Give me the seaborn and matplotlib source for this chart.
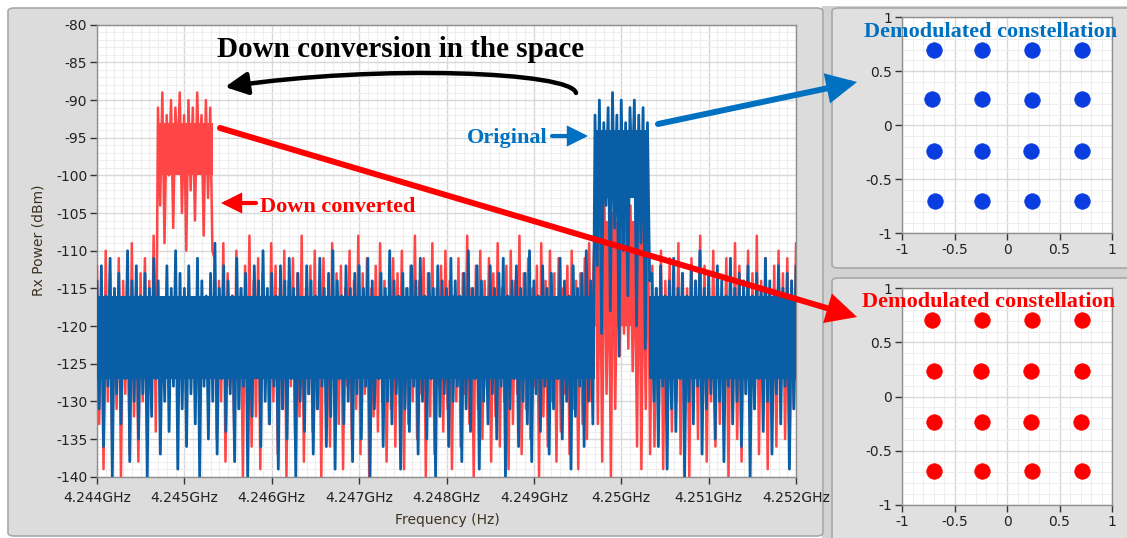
import numpy as np
import pandas as pd
import matplotlib
matplotlib.use("Agg")
import matplotlib.pyplot as plt
import seaborn as sns
from matplotlib.patches import FancyBboxPatch, FancyArrowPatch, Rectangle
from matplotlib.path import Path
from matplotlib.ticker import MultipleLocator

# spectrum values (dBm) from left to right
blue_left = [
    -114,-131,-112,-136,-116,-128,-111,-140,-115,-129,-113,-133,-117,-127,-110,-138,-114,-130,-112,-135,
    -116,-129,-113,-140,-115,-132,-111,-127,-114,-137,-118,-130,-112,-134,-115,-128,-110,-139,-113,-131,
    -115,-136,-112,-129,-117,-133,-111,-140,-114,-128,-116,-135,-113,-130,-109,-137,-115,-127,-112,-134,
    -114,-129,-116,-138,-111,-131,-115,-128,-113,-140,-117,-132,-112,-126,-114,-136,-110,-130,-115,-133,
    -113,-128,-116,-139,-112,-131,-114,-135,-111,-127,-115,-140,-113,-130,-117,-134,-112,-129,-114,-137,
    -116,-131,-111,-128,-115,-136,-113,-132,-110,-139,-114,-127,-116,-133,-112,-130,-115,-138,-113,-129,
    -112,-135,-115,-128,-111,-140,-114,-131,-117,-127,-113,-136,-115,-130,-110,-133,-114,-129,-116,-139,
    -113,-131,-115,-134,-112,-128,-114,-137,-111,-130,-116,-135,-113,-127,-115,-140,-112,-132,-114,-129,
    -115,-136,-111,-130,-114,-128,-116,-138,-113,-131,-110,-134,-115,-127,-112,-139,-114,-130,-117,-133,
    -112,-129,-115,-135,-113,-128,-111,-140,-116,-131,-114,-127,-112,-136,-115,-130,-113,-133,-110,-138,
    -114,-129,-116,-134,-112,-128,-115,-137,-113,-131,-117,-127,-111,-135,-114,-130,-116,-139,-112,-132,
    -115,-128,-113,-136,-110,-130,-114,-133,
]
blue_band = [
    -92,-112,-90,-121,-93,-104,-91,-118,-89,-107,-92,-124,-90,-110,-93,-116,-91,-102,-90,-120,
    -92,-109,-91,-123,-93,-114,
]
blue_right = [
    -113,-130,-115,-136,-112,-128,-116,-139,-114,-131,-111,-134,-115,-127,-113,-140,-116,-130,-112,-133,
    -114,-128,-110,-137,-115,-131,-113,-129,-117,-135,-112,-130,-114,-138,-116,-128,-111,-133,-115,-130,
    -113,-136,-114,-129,-112,-140,-116,-131,-113,-127,-115,-134,-111,-130,-114,-137,-116,-129,-112,-133,
    -115,-128,-113,-139,-114,-131,-112,
]

red_left = [
    -112,-133,-115,-139,-110,-130,-113,-136,-116,-131,-111,-140,-114,-129,-112,-137,-109,-132,-115,-138,
    -113,-130,-111,-135,-114,-131,-108,-134,
]
red_band = [
    -91,-104,-89,-109,-92,-100,-90,-107,-91,-98,-89,-105,-92,-110,-90,-102,-91,-106,-89,-99,
    -92,-108,-90,-103,-91,-110,
]
red_mid = [
    -111,-135,-114,-130,-109,-138,-113,-128,-116,-134,-110,-131,-115,-140,-112,-129,-108,-136,-114,-132,
    -111,-139,-113,-127,-116,-133,-109,-130,-112,-137,-115,-131,-110,-140,-114,-128,-111,-135,-113,-132,
    -108,-138,-115,-129,-112,-134,-110,-131,-114,-140,-111,-127,-116,-136,-109,-130,-113,-133,-112,-139,
    -115,-128,-110,-135,-114,-131,-108,-137,-113,-129,-111,-140,-115,-132,-112,-134,-109,-130,-114,-138,
    -116,-131,-111,-136,-113,-128,-110,-139,-115,-133,-112,-130,-108,-135,-114,-129,-111,-140,-113,-132,
    -109,-137,-115,-128,-112,-134,-110,-131,-114,-139,-116,-130,-111,-136,-113,-129,-108,-133,-115,-140,
    -112,-131,-110,-135,-114,-128,-111,-138,-113,-132,-109,-136,-115,-130,-112,-139,-110,-133,-114,-129,
    -108,-137,-113,-131,-111,-135,-115,-128,-112,-140,-109,-132,-114,-136,-110,-130,-113,-138,-111,-134,
    -115,-129,-112,-137,-110,-131,-114,-139,-113,-133,-111,-135,-109,-130,-112,
]
red_image = [
    -104,-133,-107,-138,-103,-129,-109,-140,-105,-131,-108,-124,-103,-121,-106,-123,-104,-126,-110,-136,
    -105,-139,-108,-131,-104,-137,
]
red_right = [
    -112,-136,-115,-131,-110,-139,-114,-128,-111,-134,-116,-130,-109,-137,-113,-132,-115,-140,-111,-129,
    -114,-135,-108,-131,-112,-138,-115,-130,-110,-136,-113,-133,-116,-128,-111,-140,-114,-131,-109,-135,
    -112,-138,-115,-129,-110,-134,-113,-131,-108,-137,-114,-130,-111,-139,-115,-132,-112,-136,-110,-129,
    -113,-135,-111,-138,-114,-131,-109,
]

# solid core of each trace (where the dense sweep fills the plot completely)
blue_core_f = [4.244, 4.2497, 4.2497, 4.25032, 4.25032, 4.252]
blue_core_top = [-116, -116, -94, -94, -116, -116]
blue_core_bot = [-127, -127, -103, -103, -127, -127]
red_core_f = [4.2447, 4.24533]
red_core_top = [-93, -93]
red_core_bot = [-100, -100]
red_image_f = [4.2497, 4.25032]
red_image_top = [-106, -106]
red_image_bot = [-120, -120]

f_start, f_stop = 4.244, 4.252
x_ticks = [4.244, 4.245, 4.246, 4.247, 4.248, 4.249, 4.250, 4.251, 4.252]
x_labels = ["4.244GHz", "4.245GHz", "4.246GHz", "4.247GHz", "4.248GHz",
            "4.249GHz", "4.25GHz", "4.251GHz", "4.252GHz"]

# constellation cluster centres (I, Q)
blue_i = [-0.70, -0.24, 0.24, 0.71, -0.71, -0.24, 0.24, 0.71,
          -0.70, -0.24, 0.23, 0.71, -0.69, -0.24, 0.24, 0.71]
blue_q = [0.70, 0.70, 0.70, 0.70, 0.24, 0.24, 0.23, 0.24,
          -0.24, -0.24, -0.24, -0.24, -0.70, -0.70, -0.70, -0.70]
red_i = [-0.71, -0.24, 0.24, 0.71, -0.70, -0.25, 0.23, 0.71,
         -0.70, -0.24, 0.23, 0.70, -0.70, -0.24, 0.24, 0.71]
red_q = [0.71, 0.71, 0.71, 0.71, 0.24, 0.24, 0.24, 0.24,
         -0.23, -0.23, -0.23, -0.23, -0.69, -0.69, -0.69, -0.69]
c_ticks = [-1, -0.5, 0, 0.5, 1]
c_labels = ["-1", "-0.5", "0", "0.5", "1"]

sns.set_style("white")
plt.rcParams["font.family"] = ["DejaVu Sans"]
plt.rcParams["axes.unicode_minus"] = False

BLUE = "#095ea5"
RED = "#ff4646"

W, H = 1127, 538
fig = plt.figure(figsize=(W / 100, H / 100), dpi=100)
fig.patch.set_facecolor("white")


def fx(x):
    return x / W


def fy(y):
    return 1 - y / H


def rect(x0, y0, x1, y1):
    return [fx(x0), fy(y1), fx(x1) - fx(x0), fy(y0) - fy(y1)]


def panel(x0, y0, x1, y1, face="#dcdcdc"):
    p = FancyBboxPatch((fx(x0), fy(y1)), fx(x1) - fx(x0), fy(y0) - fy(y1),
                       boxstyle="round,pad=0,rounding_size=0.006",
                       transform=fig.transFigure, facecolor=face,
                       edgecolor="#a8a8a8", lw=1.2, zorder=-5)
    fig.add_artist(p)


# window backgrounds
fig.add_artist(Rectangle((fx(822), 0), 1 - fx(822), fy(6), transform=fig.transFigure,
                         facecolor="#d2d2d2", edgecolor="none", zorder=-6))
panel(8, 8, 823, 536, "#dcdcdc")
panel(832, 8, 1135, 268, "#e0e0e0")
panel(832, 278, 1135, 545, "#e0e0e0")

# spectrum
ax = fig.add_axes(rect(97, 24.7, 796, 476.7))
ax.set_facecolor("white")

blue_vals = blue_left + blue_band + blue_right
red_vals = red_left + red_band + red_mid + red_image + red_right
blue_df = pd.DataFrame({"f": np.linspace(f_start, f_stop, len(blue_vals)), "p": blue_vals})
red_df = pd.DataFrame({"f": np.linspace(f_start, f_stop, len(red_vals)), "p": red_vals})

ax.fill_between(red_core_f, red_core_bot, red_core_top, color=RED, lw=0, zorder=2)
ax.fill_between(red_image_f, red_image_bot, red_image_top, color=RED, lw=0, zorder=2)
sns.lineplot(data=red_df, x="f", y="p", ax=ax, color=RED, lw=1.8,
             sort=False, estimator=None, zorder=3)
ax.fill_between(blue_core_f, blue_core_bot, blue_core_top, color=BLUE, lw=0, zorder=4)
sns.lineplot(data=blue_df, x="f", y="p", ax=ax, color=BLUE, lw=2.0,
             sort=False, estimator=None, zorder=5)

ax.set_xlim(f_start, f_stop)
ax.set_ylim(-140, -80)
ax.set_xticks(x_ticks)
ax.set_xticklabels(x_labels)
ax.set_yticks(range(-140, -79, 5))
ax.xaxis.set_minor_locator(MultipleLocator(0.0001))
ax.yaxis.set_minor_locator(MultipleLocator(1))
ax.grid(which="major", color="#d8d8d8", lw=1.0)
ax.grid(which="minor", color="#eeeeee", lw=0.8)
ax.set_axisbelow(True)
ax.tick_params(which="major", direction="out", length=5, width=1, color="#333333",
               labelsize=10, labelcolor="#222222", pad=2, bottom=True, left=True)
ax.tick_params(axis="x", pad=5)
ax.tick_params(which="minor", length=0)
ax.set_xlabel("")
ax.set_ylabel("")
for s in ax.spines.values():
    s.set_color("#8f8f8f")
    s.set_linewidth(1)

fig.text(fx(38), fy(240), "Rx Power (dBm)", rotation=90, ha="center", va="center",
         fontsize=10, color="#3b3222")
fig.text(fx(447), fy(520), "Frequency (Hz)", ha="center", va="center",
         fontsize=10, color="#3b3222")


# constellations
def constellation(box, xs, ys, color):
    cax = fig.add_axes(box)
    cax.set_facecolor("white")
    sns.scatterplot(x=xs, y=ys, ax=cax, color=color, s=125, marker="o",
                    edgecolor=color, linewidth=0.5, zorder=3)
    cax.set_xlim(-1, 1)
    cax.set_ylim(-1, 1)
    cax.set_xticks(c_ticks)
    cax.set_xticklabels(c_labels)
    cax.set_yticks(c_ticks)
    cax.set_yticklabels(c_labels)
    cax.xaxis.set_minor_locator(MultipleLocator(0.1))
    cax.yaxis.set_minor_locator(MultipleLocator(0.1))
    cax.grid(which="major", color="#d8d8d8", lw=1.0)
    cax.grid(which="minor", color="#eeeeee", lw=0.8)
    cax.set_axisbelow(True)
    cax.tick_params(which="major", direction="out", length=5, width=1, color="#333333",
                    labelsize=10, labelcolor="#222222", pad=2, bottom=True, left=True)
    cax.tick_params(which="minor", length=0)
    for s in cax.spines.values():
        s.set_color("#8f8f8f")
        s.set_linewidth(1)
    return cax


constellation(rect(902, 17.3, 1112, 233.3), blue_i, blue_q, "#0a3de0")
constellation(rect(902, 288.3, 1112, 505), red_i, red_q, "#ff0000")

# annotations
serif = ["Liberation Serif", "DejaVu Serif"]
fig.text(fx(217), fy(57), "Down conversion in the space", fontsize=21, fontweight="bold",
         family=serif, color="black", ha="left", va="baseline", zorder=20)
fig.text(fx(547), fy(143), "Original", fontsize=16, fontweight="bold",
         family=serif, color="#0070c0", ha="right", va="baseline", zorder=20)
fig.text(fx(260), fy(212), "Down converted", fontsize=16, fontweight="bold",
         family=serif, color="#ff0000", ha="left", va="baseline", zorder=20)
fig.text(fx(864), fy(37), "Demodulated constellation", fontsize=16, fontweight="bold",
         family=serif, color="#0070c0", ha="left", va="baseline", zorder=20)
fig.text(fx(862), fy(307), "Demodulated constellation", fontsize=16, fontweight="bold",
         family=serif, color="#ff0000", ha="left", va="baseline", zorder=20)


def arrow(p0, p1, color, lw, scale):
    a = FancyArrowPatch((fx(p0[0]), fy(p0[1])), (fx(p1[0]), fy(p1[1])),
                        transform=fig.transFigure, arrowstyle="-|>", color=color,
                        lw=lw, mutation_scale=scale, shrinkA=0, shrinkB=0, zorder=20,
                        capstyle="round", joinstyle="miter")
    fig.add_artist(a)


arrow((220, 128), (857, 317), "#ff0000", 4.3, 38)
arrow((658, 124), (857, 82), "#0070c0", 4.3, 38)
arrow((552, 136), (588, 136), "#0070c0", 3.0, 26)
arrow((256, 203), (221, 203), "#ff0000", 3.0, 26)

curve = Path([(fx(576), fy(93)), (fx(572), fy(72)), (fx(380), fy(64)), (fx(225), fy(87))],
             [Path.MOVETO, Path.CURVE4, Path.CURVE4, Path.CURVE4])
fig.add_artist(FancyArrowPatch(path=curve, transform=fig.transFigure, arrowstyle="-|>",
                               color="black", lw=3.2, mutation_scale=34, zorder=20,
                               capstyle="round"))

fig.savefig("out.png", dpi=100, facecolor=fig.get_facecolor())
